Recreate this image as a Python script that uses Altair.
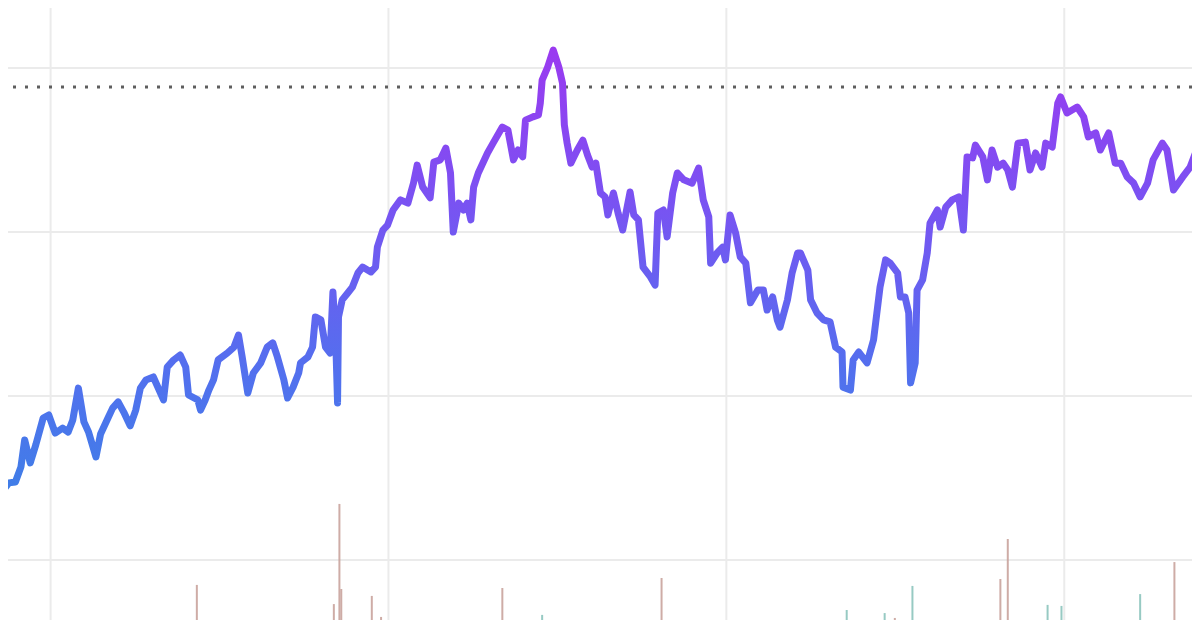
import altair as alt
import pandas as pd

# Price series: days since 2020-11-08, closing price
price_days = [0, 3, 9, 16, 22, 26, 32, 38, 46, 52, 59, 67, 73, 78, 84, 90, 95, 103, 108, 116,
              121, 127, 133, 140, 146, 151, 157, 165, 176, 180, 187, 194, 200, 203, 213, 216, 221, 225, 230, 235,
              245, 252, 257, 261, 267, 273, 281, 288, 294, 299, 306, 310, 316, 322, 324, 332, 337, 340, 346, 351,
              356, 359, 362, 364, 365, 369, 375, 380, 386, 391, 400, 405, 407, 413, 418, 424, 432, 440, 446, 450,
              456, 464, 468, 475, 481, 486, 489, 495, 500, 504, 508, 511, 516, 526, 532, 542, 548, 554, 559, 564,
              567, 575, 581, 583, 585, 591, 597, 603, 607, 609, 612, 616, 623, 629, 634, 639, 643, 648, 653, 656,
              662, 667, 672, 680, 684, 689, 694, 702, 707, 710, 716, 720, 726, 731, 738, 747, 754, 759, 765, 767,
              774, 780, 783, 788, 794, 799, 805, 810, 818, 824, 828, 834, 839, 842, 850, 855, 861, 864, 872, 875,
              882, 889, 896, 902, 909, 910, 918, 921, 927, 936, 943, 950, 956, 961, 969, 972, 977, 981, 983, 988,
              990, 996, 1001, 1004, 1012, 1015, 1021, 1028, 1035, 1040, 1044, 1050, 1053, 1061, 1066, 1071, 1077, 1083, 1088, 1093,
              1099, 1107, 1112, 1118, 1125, 1129, 1136, 1142, 1145, 1152, 1163, 1170, 1175, 1183, 1188, 1197, 1204, 1210, 1217, 1224,
              1231, 1239, 1245, 1255, 1260, 1267, 1277, 1285, 1296]
price_close = [103.7, 121.3, 123.5, 123.8, 128.4, 136.6, 129.6, 135.1, 143.3, 144.2, 138.7, 140.2, 139.0, 142.7, 152.4, 142.1, 139.0, 131.4, 138.4, 143.3,
               146.3, 148.2, 145.1, 140.9, 145.7, 152.4, 154.9, 155.8, 148.8, 158.8, 161.0, 162.5, 158.8, 150.3, 148.8, 145.7, 148.8, 151.8, 154.9, 161.0,
               163.1, 164.9, 168.6, 161.9, 150.9, 157.0, 160.1, 164.9, 166.2, 161.9, 154.9, 149.4, 152.7, 157.0, 160.1, 161.9, 164.9, 174.1, 173.2, 164.9,
               163.1, 181.7, 167.1, 147.9, 174.1, 179.3, 181.4, 183.2, 187.5, 189.3, 187.8, 189.3, 195.4, 200.6, 202.1, 206.7, 209.8, 208.8, 214.9, 220.4,
               213.7, 210.4, 221.3, 222.0, 225.6, 218.0, 200.0, 208.8, 206.7, 208.8, 203.7, 213.7, 218.0, 224.1, 227.1, 232.0, 231.1, 222.0, 225.0, 222.9,
               234.1, 235.1, 235.7, 239.3, 246.3, 250.3, 255.5, 250.3, 245.4, 232.6, 227.1, 221.0, 225.0, 228.0, 223.5, 219.8, 221.0, 211.9, 210.7, 205.2,
               211.9, 205.8, 200.6, 212.2, 205.2, 203.7, 189.3, 186.3, 183.8, 205.8, 206.7, 198.5, 211.9, 218.0, 215.9, 214.9, 219.5, 209.8, 204.6, 190.5,
               193.6, 195.4, 191.5, 205.2, 199.7, 192.4, 190.5, 178.4, 182.3, 182.3, 176.2, 180.2, 173.2, 171.0, 179.3, 187.5, 193.6, 193.6, 188.4, 179.3,
               175.3, 173.2, 172.6, 164.9, 163.4, 152.7, 151.8, 161.0, 163.4, 160.1, 167.1, 183.2, 191.5, 190.5, 187.5, 180.2, 180.2, 175.3, 154.0, 160.1,
               182.3, 185.4, 193.6, 202.7, 206.7, 201.5, 207.6, 209.8, 210.7, 200.6, 222.9, 222.6, 226.5, 222.9, 215.9, 225.0, 219.8, 221.0, 218.9, 213.7,
               227.1, 227.4, 218.9, 224.1, 219.8, 227.1, 225.9, 239.3, 241.2, 236.3, 238.1, 235.1, 229.0, 230.2, 225.0, 230.2, 221.0, 221.0, 216.8, 214.9,
               210.7, 214.9, 222.0, 227.1, 225.0, 212.8, 216.8, 219.8, 228.0]

# Volume spikes: days since 2020-11-08, volume (millions), direction
vol_days = [212, 360, 366, 368, 401, 411, 542, 585, 714, 914, 955, 966, 985, 1080, 1088, 1131, 1146, 1231, 1268]
vol_values = [17.2, 7.8, 56.9, 15.2, 11.8, 1.5, 15.7, 2.5, 20.6, 4.9, 3.4, 1.0, 16.7, 20.1, 39.7, 7.4, 6.9, 12.7, 28.4]
vol_dir = ["down", "down", "down", "down", "down", "down", "down", "up", "down", "up",
           "up", "down", "up", "down", "down", "up", "up", "up", "down"]

reference_level = [244.2]
grid_years = ["2021-01-01", "2022-01-01", "2023-01-01", "2024-01-01"]
grid_prices = [100, 150, 200, 250]

start = pd.Timestamp("2020-11-08")
price_df = pd.DataFrame({
    "date": start + pd.to_timedelta(price_days, unit="D"),
    "close": price_close,
})
vol_df = pd.DataFrame({
    "date": start + pd.to_timedelta(vol_days, unit="D"),
    "volume": vol_values,
    "dir": vol_dir,
})
ref_df = pd.DataFrame({"level": reference_level})
xgrid_df = pd.DataFrame({"date": pd.to_datetime(grid_years)})
ygrid_df = pd.DataFrame({"level": grid_prices})

x_domain = [alt.DateTime(year=2020, month=11, date=16), alt.DateTime(year=2024, month=5, date=18)]
x_scale = alt.Scale(domain=x_domain, nice=False)
y_scale = alt.Scale(domain=[81.7, 268.3], nice=False, zero=False)
v_scale = alt.Scale(domain=[0, 300], nice=False)

xgrid = alt.Chart(xgrid_df).mark_rule(strokeWidth=2, color="#ebebeb", clip=True).encode(
    x=alt.X("date:T", scale=x_scale, axis=None),
)
ygrid = alt.Chart(ygrid_df).mark_rule(strokeWidth=2, color="#ebebeb", clip=True).encode(
    y=alt.Y("level:Q", scale=y_scale, axis=None),
)

volume = alt.Chart(vol_df).mark_rule(strokeWidth=2, opacity=0.9, clip=True).encode(
    x=alt.X("date:T", scale=x_scale, axis=None),
    y=alt.Y("volume:Q", scale=v_scale, axis=None),
    y2=alt.datum(0),
    color=alt.Color("dir:N", scale=alt.Scale(domain=["up", "down"], range=["#8cc4bc", "#c9a39c"]), legend=None),
)

ref = alt.Chart(ref_df).mark_rule(strokeWidth=3, strokeDash=[3, 9], color="#5e5e5e", clip=True).encode(
    y=alt.Y("level:Q", scale=y_scale, axis=None),
)

line = alt.Chart(price_df).mark_line(
    strokeWidth=7,
    strokeCap="round",
    strokeJoin="round",
    clip=True,
    color=alt.Gradient(
        gradient="linear",
        stops=[
            alt.GradientStop(color="#3784e4", offset=0),
            alt.GradientStop(color="#5270ee", offset=0.35),
            alt.GradientStop(color="#7a52f2", offset=0.7),
            alt.GradientStop(color="#9a3af0", offset=1),
        ],
        x1=0, x2=0, y1=1, y2=0,
    ),
).encode(
    x=alt.X("date:T", scale=x_scale, axis=None),
    y=alt.Y("close:Q", scale=y_scale, axis=None),
)

chart = alt.layer(xgrid, ygrid, volume, ref, line).resolve_scale(y="independent").properties(
    width=1184,
    height=612,
    padding=0,
    background="white",
    autosize=alt.AutoSizeParams(type="none"),
).configure_view(stroke=None)

chart.save("out.html", embed_options={"renderer": "svg", "actions": False})
